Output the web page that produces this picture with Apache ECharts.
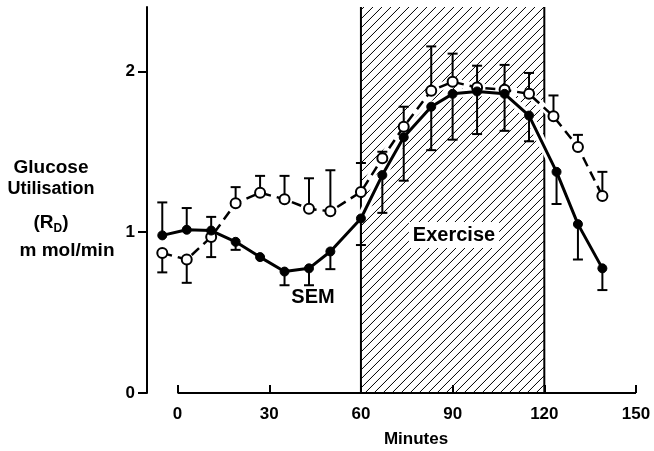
<!DOCTYPE html>
<html><head><meta charset="utf-8">
<script src="https://cdn.jsdelivr.net/npm/echarts@6.0.0/dist/echarts.min.js"></script>
<style>html,body{margin:0;padding:0;background:#fff}#c{width:654px;height:451px}</style>
</head><body><div id="c"></div>
<script>
// ---- data ----
const minutesOpen   = [-5, 3, 11, 19, 27, 35, 43, 50, 60, 67, 74, 83, 90, 98, 107, 115, 123, 131, 139];
const minutesFilled = [-5, 3, 11, 19, 27, 35, 43, 50, 60, 67, 74, 83, 90, 98, 107, 115, 124, 131, 139];
const rdFilled  = [0.98, 1.015, 1.01, 0.94, 0.845, 0.755, 0.775, 0.88, 1.085, 1.355, 1.59, 1.78, 1.86, 1.875, 1.86, 1.725, 1.375, 1.05, 0.775];
const semFilled = [1.185, 1.15, 1.095, 0.89, null, 0.67, 0.67, 0.77, 0.92, 1.12, 1.32, 1.51, 1.575, 1.61, 1.63, 1.565, 1.175, 0.83, 0.64];
const rdOpen    = [0.87, 0.83, 0.97, 1.18, 1.245, 1.205, 1.145, 1.13, 1.25, 1.46, 1.655, 1.88, 1.935, 1.90, 1.885, 1.86, 1.72, 1.53, 1.225];
const semOpen   = [0.75, 0.685, 0.845, 1.28, 1.35, 1.35, 1.335, 1.385, 1.43, 1.50, 1.78, 2.155, 2.11, 2.035, 2.04, 1.99, 1.85, 1.605, 1.375];
const exercisePeriod = [60, 120];
const xTicks = [0, 30, 60, 90, 120, 150];
const yTicks = [0, 1, 2];
const xRange = [-10, 150];
const yRange = [0, 2.4];

// ---- build ----
const FONT = '"Liberation Sans", Arial, Helvetica, sans-serif';
const zip = (xs, ys) => xs.map((x, i) => [x, ys[i]]);
const errRows = (xs, ys, es) => xs.map((x, i) => [x, ys[i], es[i]]).filter(r => r[2] != null);

function errItem(params, api) {
  const p = api.coord([api.value(0), api.value(1)]);
  const q = api.coord([api.value(0), api.value(2)]);
  const st = { stroke: '#000', lineWidth: 2 };
  return { type: 'group', children: [
    { type: 'line', shape: { x1: p[0], y1: p[1], x2: q[0], y2: q[1] }, style: st },
    { type: 'line', shape: { x1: q[0] - 5, y1: q[1], x2: q[0] + 5, y2: q[1] }, style: st }
  ]};
}

function hatchItem(params, api) {
  const a = api.coord([api.value(0), yRange[0]]);
  const b = api.coord([api.value(1), yRange[1]]);
  const x0 = a[0], x1 = b[0], y0 = b[1], y1 = a[1];
  const kids = [];
  const step = 9;
  for (let c = x0 + y0 + 3; c < x1 + y1; c += step) {
    const xa = Math.max(x0, c - y1), xb = Math.min(x1, c - y0);
    if (xa < xb) kids.push({ type: 'line', shape: { x1: xa, y1: c - xa, x2: xb, y2: c - xb }, style: { stroke: '#000', lineWidth: 1 } });
  }
  kids.push({ type: 'line', shape: { x1: x0, y1: y0, x2: x0, y2: y1 }, style: { stroke: '#000', lineWidth: 2 } });
  kids.push({ type: 'line', shape: { x1: x1, y1: y0, x2: x1, y2: y1 }, style: { stroke: '#000', lineWidth: 2 } });
  return { type: 'group', children: kids };
}

const chart = echarts.init(document.getElementById('c'), null, { renderer: 'canvas' });
chart.setOption({
  animation: false,
  backgroundColor: '#fff',
  grid: { left: 147, right: 18, top: 7, bottom: 58, containLabel: false, outerBoundsMode: 'none' },
  xAxis: {
    type: 'value', min: xRange[0], max: xRange[1],
    axisLine: { show: false, onZero: false },
    splitLine: { show: false },
    axisTick: { show: true, inside: true, length: 8, customValues: xTicks, lineStyle: { color: '#000', width: 2 } },
    axisLabel: { customValues: xTicks, margin: 13, color: '#000', fontSize: 17, fontWeight: 'bold', fontFamily: FONT }
  },
  yAxis: {
    type: 'value', min: yRange[0], max: yRange[1],
    axisLine: { show: true, onZero: false, lineStyle: { color: '#000', width: 2 } },
    splitLine: { show: false },
    axisTick: { show: true, length: 9, customValues: yTicks, lineStyle: { color: '#000', width: 2 } },
    axisLabel: { customValues: yTicks, margin: 12, color: '#000', fontSize: 17, fontWeight: 'bold', fontFamily: FONT }
  },
  series: [
    { type: 'custom', name: 'exercise', z: 1, silent: true, renderItem: hatchItem, data: [exercisePeriod] },
    { type: 'line', name: 'x-axis', z: 2, silent: true, symbol: 'none', data: [[xTicks[0], 0], [xTicks[xTicks.length - 1], 0]], lineStyle: { color: '#000', width: 2 } },
    { type: 'line', z: 3, silent: true, symbol: 'none', data: zip(minutesOpen, rdOpen), lineStyle: { color: '#fff', width: 8 } },
    { type: 'line', z: 3, silent: true, symbol: 'none', data: zip(minutesFilled, rdFilled), lineStyle: { color: '#fff', width: 9 } },
    { type: 'custom', name: 'SEM open', z: 4, renderItem: errItem, data: errRows(minutesOpen, rdOpen, semOpen) },
    { type: 'custom', name: 'SEM filled', z: 4, renderItem: errItem, data: errRows(minutesFilled, rdFilled, semFilled) },
    { type: 'line', name: 'open', z: 5, data: zip(minutesOpen, rdOpen),
      symbol: 'circle', symbolSize: 10, itemStyle: { color: '#fff', borderColor: '#000', borderWidth: 2 },
      lineStyle: { color: '#000', width: 2.5, type: [10, 6] } },
    { type: 'line', name: 'filled', z: 6, data: zip(minutesFilled, rdFilled),
      symbol: 'circle', symbolSize: 9, itemStyle: { color: '#000', borderColor: '#000', borderWidth: 1 },
      lineStyle: { color: '#000', width: 3 } }
  ],
  graphic: [
    { type: 'text', x: 51, y: 168, z: 10, style: { text: 'Glucose', fontSize: 19, fontWeight: 'bold', fontFamily: FONT, fill: '#000', align: 'center', verticalAlign: 'middle' } },
    { type: 'text', x: 51, y: 189, z: 10, style: { text: 'Utilisation', fontSize: 18, fontWeight: 'bold', fontFamily: FONT, fill: '#000', align: 'center', verticalAlign: 'middle' } },
    { type: 'text', x: 51, y: 223, z: 10, style: { text: '{a|(R}{b|D}{a|)}', fill: '#000', align: 'center', verticalAlign: 'middle',
        rich: { a: { fontSize: 19, fontWeight: 'bold', fontFamily: FONT, fill: '#000', verticalAlign: 'bottom' },
                b: { fontSize: 12, fontWeight: 'bold', fontFamily: FONT, fill: '#000', verticalAlign: 'bottom', padding: [0, 0, -2, 0] } } } },
    { type: 'text', x: 67, y: 251, z: 10, style: { text: 'm mol/min', fontSize: 19, fontWeight: 'bold', fontFamily: FONT, fill: '#000', align: 'center', verticalAlign: 'middle' } },
    { type: 'text', x: 416, y: 439, z: 10, style: { text: 'Minutes', fontSize: 17, fontWeight: 'bold', fontFamily: FONT, fill: '#000', align: 'center', verticalAlign: 'middle' } },
    { type: 'text', x: 313, y: 297, z: 10, style: { text: 'SEM', fontSize: 20, fontWeight: 'bold', fontFamily: FONT, fill: '#000', align: 'center', verticalAlign: 'middle' } },
    { type: 'text', x: 454, y: 235, z: 10, style: { text: 'Exercise', fontSize: 20, fontWeight: 'bold', fontFamily: FONT, fill: '#000', align: 'center', verticalAlign: 'middle', backgroundColor: '#fff', padding: [3, 4] } }
  ]
});
</script></body></html>
